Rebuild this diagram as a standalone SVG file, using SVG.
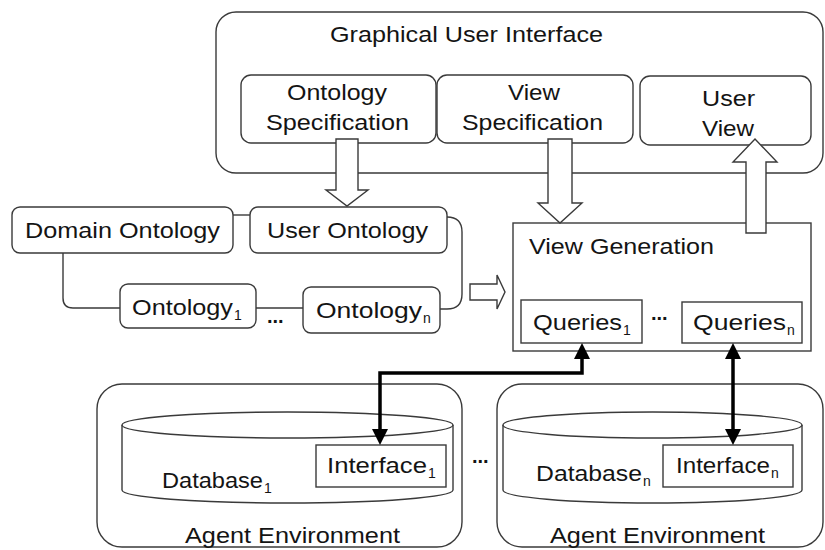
<svg xmlns="http://www.w3.org/2000/svg" width="825" height="550" viewBox="0 0 825 550">
<style>
.box{fill:#fff;stroke:#3a3a3a;stroke-width:1.4}
.t{font-family:"Liberation Sans",Arial,sans-serif;font-size:22px;fill:#141414}
.sub{font-size:14px}
.dots{font-family:"Liberation Sans",Arial,sans-serif;font-size:20px;font-weight:bold;fill:#141414}
.ln{fill:none;stroke:#3a3a3a;stroke-width:1.4}
.hollow{fill:#fff;stroke:#3a3a3a;stroke-width:1.4;stroke-linejoin:miter}
.thick{fill:none;stroke:#000;stroke-width:3.5;marker-start:url(#ah);marker-end:url(#ah)}
</style>
<defs>
<marker id="ah" markerUnits="userSpaceOnUse" viewBox="0 0 16 16" refX="6" refY="8" markerWidth="16" markerHeight="16" orient="auto-start-reverse">
<path d="M0,0 L16,8 L0,16 Z" fill="#000"/>
</marker>
</defs>
<rect width="825" height="550" fill="#fff"/>

<g id="gui">
<rect class="box" x="216" y="12" width="607" height="161" rx="20"/>
<text class="t" x="330" y="42" textLength="273" lengthAdjust="spacingAndGlyphs">Graphical User Interface</text>
</g>
<g id="ontology-specification">
<rect class="box" x="241" y="75" width="195" height="68" rx="10"/>
<text class="t" x="287" y="100" textLength="100" lengthAdjust="spacingAndGlyphs">Ontology</text>
<text class="t" x="266" y="130" textLength="143" lengthAdjust="spacingAndGlyphs">Specification</text>
</g>
<g id="view-specification">
<rect class="box" x="437" y="75" width="196" height="68" rx="10"/>
<text class="t" x="508" y="100" textLength="52" lengthAdjust="spacingAndGlyphs">View</text>
<text class="t" x="462" y="130" textLength="141" lengthAdjust="spacingAndGlyphs">Specification</text>
</g>
<g id="user-view">
<rect class="box" x="640" y="76" width="171" height="69" rx="10"/>
<text class="t" x="702" y="106" textLength="53" lengthAdjust="spacingAndGlyphs">User</text>
<text class="t" x="702" y="136" textLength="52" lengthAdjust="spacingAndGlyphs">View</text>
</g>

<g id="domain-ontology">
<rect class="box" x="12" y="207" width="221" height="46" rx="8"/>
<text class="t" x="25" y="238" textLength="195" lengthAdjust="spacingAndGlyphs">Domain Ontology</text>
</g>
<g id="user-ontology">
<rect class="box" x="250" y="207" width="197" height="46" rx="8"/>
<text class="t" x="267" y="238" textLength="161" lengthAdjust="spacingAndGlyphs">User Ontology</text>
</g>
<g id="ontology-1">
<rect class="box" x="120" y="284" width="136" height="44" rx="8"/>
<text class="t" x="132" y="315"><tspan textLength="101" lengthAdjust="spacingAndGlyphs">Ontology</tspan><tspan class="sub" x="234" y="320">1</tspan></text>
</g>
<g id="ontology-n">
<rect class="box" x="303" y="287" width="137" height="46" rx="8"/>
<text class="t" x="316" y="318"><tspan textLength="106" lengthAdjust="spacingAndGlyphs">Ontology</tspan><tspan class="sub" x="423" y="323">n</tspan></text>
</g>
<text class="dots" x="267" y="323">...</text>

<g id="view-generation">
<rect class="box" x="513" y="223" width="298" height="128"/>
<text class="t" x="529" y="254" textLength="185" lengthAdjust="spacingAndGlyphs">View Generation</text>
</g>
<g id="queries-1">
<rect class="box" x="521" y="300" width="121" height="43"/>
<text class="t" x="533" y="330"><tspan textLength="89" lengthAdjust="spacingAndGlyphs">Queries</tspan><tspan class="sub" x="623" y="335">1</tspan></text>
</g>
<g id="queries-n">
<rect class="box" x="682" y="302" width="120" height="41"/>
<text class="t" x="693" y="330"><tspan textLength="93" lengthAdjust="spacingAndGlyphs">Queries</tspan><tspan class="sub" x="787" y="335">n</tspan></text>
</g>
<text class="dots" x="651" y="320">...</text>

<g id="agent-environment-1">
<rect class="box" x="97" y="384" width="365" height="163" rx="25"/>
<path class="box" d="M122,425 V490 A165.5,13 0 0 0 453,490 V425"/>
<ellipse class="box" cx="287.5" cy="425" rx="165.5" ry="13"/>
<text class="t" x="162" y="488"><tspan textLength="101" lengthAdjust="spacingAndGlyphs">Database</tspan><tspan class="sub" x="264" y="493">1</tspan></text>
<rect class="box" x="316" y="445" width="130" height="42"/>
<text class="t" x="327" y="473"><tspan textLength="100" lengthAdjust="spacingAndGlyphs">Interface</tspan><tspan class="sub" x="428" y="478">1</tspan></text>
<text class="t" x="185" y="543" textLength="215" lengthAdjust="spacingAndGlyphs">Agent Environment</text>
</g>
<text class="dots" x="472" y="463">...</text>
<g id="agent-environment-n">
<rect class="box" x="497" y="384" width="326" height="163" rx="25"/>
<path class="box" d="M503,425 V490 A149.5,13 0 0 0 802,490 V425"/>
<ellipse class="box" cx="652.5" cy="425" rx="149.5" ry="13"/>
<text class="t" x="536" y="481"><tspan textLength="106" lengthAdjust="spacingAndGlyphs">Database</tspan><tspan class="sub" x="643" y="486">n</tspan></text>
<rect class="box" x="663" y="445" width="130" height="42"/>
<text class="t" x="676" y="473"><tspan textLength="94" lengthAdjust="spacingAndGlyphs">Interface</tspan><tspan class="sub" x="771" y="478">n</tspan></text>
<text class="t" x="550" y="543" textLength="215" lengthAdjust="spacingAndGlyphs">Agent Environment</text>
</g>

<g id="connectors">
<path class="ln" d="M233,215 H250"/>
<path class="ln" d="M63,253 V298 Q63,308 73,308 H120"/>
<path class="ln" d="M256,308 H303"/>
<path class="ln" d="M447,217 Q462,217 462,232 V294 Q462,309 447,309 H440"/>
<polygon class="hollow" points="336,139 358,139 358,190 368,190 347,206 326,190 336,190"/>
<polygon class="hollow" points="548,139 572,139 572,203 582,203 560,223 538,203 548,203"/>
<polygon class="hollow" points="746,233 766,233 766,162 777,162 755,139 733,162 746,162"/>
<polygon class="hollow" points="470,284 497,284 497,275 505,292 497,309 497,300 470,300"/>
<path class="thick" d="M582,353 V373 H380 V435"/>
<path class="thick" d="M733,353 V435"/>
</g>
</svg>
